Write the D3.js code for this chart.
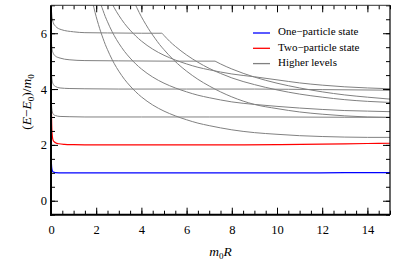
<!DOCTYPE html>
<html>
<head>
<meta charset="utf-8">
<script src="https://cdn.jsdelivr.net/npm/d3@7"></script>
<style>
  body { margin: 0; background: #fff; }
  svg { display: block; }
</style>
</head>
<body>
<div id="chart-container"></div>
<script>
// Levels as [m0R, (E-E0)/m0] pairs
var oneParticle = [[0.01,1.45],[0.03,1.2],[0.06,1.07],[0.1,1.03],[0.2,1.01],[0.5,1.0],[2,1.0],[5,1.0],[8,1.0],[11,1.0],[13,1.005],[15,1.01]];
var twoParticle = [[0.01,3.6],[0.03,2.75],[0.06,2.3],[0.1,2.15],[0.2,2.08],[0.35,2.04],[0.6,2.02],[1,2.01],[2,2.0],[4,2.0],[6,2.0],[8,2.0],[10,2.01],[12,2.03],[14,2.05],[15,2.06]];

var level3 = [[0.01,3.7],[0.03,3.35],[0.06,3.18],[0.1,3.1],[0.2,3.05],[0.4,3.02],[0.8,3.01],[1.5,3.0],[4,3.0],[7,3.0],[10,3.0],[13,2.99],[15,2.99]];
var level4 = [[0.01,4.75],[0.03,4.45],[0.06,4.27],[0.1,4.17],[0.2,4.09],[0.4,4.04],[0.8,4.02],[1.5,4.01],[3,4.0],[6,4.0],[9,4.0],[12,3.98],[15,3.96]];
var level5 = [[0.01,5.85],[0.03,5.55],[0.06,5.38],[0.1,5.28],[0.2,5.18],[0.4,5.11],[0.8,5.05],[1.5,5.02],[3,5.01],[5,5.0],[7.26,5.0]];
var level6 = [[0.02,6.8],[0.05,6.55],[0.1,6.38],[0.2,6.25],[0.45,6.13],[1,6.05],[1.5,6.02],[2.5,6.01],[4,6.0],[4.9,6.0],
              [5.0,5.92],[5.25,5.71],[5.5,5.53],[6,5.22],[6.5,4.96],[7,4.74],[7.5,4.56],[8,4.40],[9,4.16],[10,3.97],[11,3.82],[12,3.71],[13,3.62],[14,3.56],[15,3.52]];
var movingA = [[1.8,7.26],[1.9,6.91],[2.0,6.59],[2.1,6.31],[2.2,6.05],[2.3,5.82],[2.4,5.60],[2.5,5.41],[2.6,5.23],[2.8,4.91],[3.0,4.64],[3.25,4.35],[3.5,4.11],[3.75,3.90],[4,3.72],[4.5,3.43],[5,3.21],[5.5,3.04],[6,2.90],[6.5,2.78],[7,2.69],[7.5,2.61],[8,2.54],[9,2.44],[10,2.38],[11,2.33],[12,2.30],[13,2.28],[14,2.27],[15,2.27]];
var movingB = [[2.15,7.18],[2.2,7.05],[2.3,6.82],[2.4,6.60],[2.5,6.41],[2.6,6.23],[2.8,5.91],[3,5.64],[3.25,5.35],[3.5,5.11],[3.75,4.90],[4,4.72],[4.5,4.43],[5,4.21],[5.5,4.04],[6,3.90],[6.5,3.78],[7,3.69],[7.5,3.61],[8,3.54],[9,3.45],[10,3.38],[11,3.32],[12,3.27],[13,3.23],[14,3.21],[15,3.19]];
var movingC = [[2.65,7.15],[2.8,6.91],[3,6.64],[3.25,6.35],[3.5,6.11],[3.75,5.90],[4,5.72],[4.5,5.43],[5,5.21],[5.5,5.04],[6,4.90],[6.5,4.78],[7,4.69],[7.5,4.61],[8,4.54],[9,4.44],[10,4.33],[11,4.22],[12,4.14],[13,4.08],[14,4.04],[15,4.01]];
var movingD = [[3.65,7.17],[3.8,6.91],[4,6.59],[4.2,6.31],[4.4,6.05],[4.6,5.82],[4.8,5.60],[5,5.41],[5.2,5.23],[5.6,4.91],[6,4.64],[6.5,4.35],[7,4.11],[7.5,3.90],[8,3.72],[9,3.45],[10,3.30],[11,3.18],[12,3.10],[13,3.04],[14,3.0],[15,2.98]];
var movingE = [[7.26,5.0],[7.5,4.90],[8,4.72],[9,4.43],[10,4.21],[11,4.04],[12,3.90],[13,3.79],[14,3.71],[15,3.64]];

var higherLevels = [level3, level4, level5, level6, movingA, movingB, movingC, movingD, movingE];

var legendLabels = ["One\u2212particle state", "Two\u2212particle state", "Higher levels"];
var legendColors = ["#0000ff", "#ff0000", "#808080"];

var xMajorTicks = [0, 2, 4, 6, 8, 10, 12, 14];
var yMajorTicks = [0, 2, 4, 6];
var xMinorTicks = d3.range(0, 15.01, 0.5);
var yMinorTicks = d3.range(-0.5, 7.01, 0.5);

var width = 399, height = 264;
var plotLeft = 51, plotRight = 390, plotTop = 5.3, plotBottom = 214.7;

var svg = d3.select("#chart-container").append("svg")
    .attr("width", width)
    .attr("height", height)
    .style("font-family", "'Liberation Serif', 'DejaVu Serif', serif");

var x = d3.scaleLinear().domain([0, 15]).range([plotLeft, plotRight]);
var y = d3.scaleLinear().domain([-0.5, 7]).range([plotBottom, plotTop]);

svg.append("clipPath").attr("id", "plot-clip")
    .append("rect")
    .attr("x", plotLeft).attr("y", plotTop)
    .attr("width", plotRight - plotLeft).attr("height", plotBottom - plotTop);

var line = d3.line()
    .x(function(d) { return x(d[0]); })
    .y(function(d) { return y(d[1]); })
    .curve(d3.curveMonotoneX);

var plot = svg.append("g").attr("clip-path", "url(#plot-clip)");

// gray higher levels first, then red and blue on top
plot.selectAll("path.higher")
    .data(higherLevels)
    .enter()
    .append("path")
    .attr("class", "higher")
    .attr("d", line)
    .attr("fill", "none")
    .attr("stroke", legendColors[2])
    .attr("stroke-width", 1);

plot.append("path").attr("d", line(twoParticle))
    .attr("fill", "none").attr("stroke", legendColors[1]).attr("stroke-width", 1.2);
plot.append("path").attr("d", line(oneParticle))
    .attr("fill", "none").attr("stroke", legendColors[0]).attr("stroke-width", 1.2);

// ticks pointing inward on all four sides
function tickAxis(axis, tx, ty, values, size, labels) {
    var g = svg.append("g")
        .attr("transform", "translate(" + tx + "," + ty + ")")
        .call(axis.tickValues(values).tickSize(size).tickFormat(labels ? d3.format("d") : ""));
    g.select(".domain").remove();
    g.selectAll(".tick line").attr("stroke", "#000").attr("stroke-width", 1);
    return g;
}

tickAxis(d3.axisBottom(x), 0, plotBottom, xMinorTicks, -4, false);
tickAxis(d3.axisTop(x), 0, plotTop, xMinorTicks, -4, false);
tickAxis(d3.axisLeft(y), plotLeft, 0, yMinorTicks, -4, false);
tickAxis(d3.axisRight(y), plotRight, 0, yMinorTicks, -4, false);

var xAxis = tickAxis(d3.axisBottom(x).tickPadding(10), 0, plotBottom, xMajorTicks, -7, true);
tickAxis(d3.axisTop(x), 0, plotTop, xMajorTicks, -7, false);
var yAxis = tickAxis(d3.axisLeft(y).tickPadding(4), plotLeft, 0, yMajorTicks, -7, true);
tickAxis(d3.axisRight(y), plotRight, 0, yMajorTicks, -7, false);

xAxis.selectAll("text").attr("font-size", 12.5).attr("fill", "#000").attr("font-family", "'Liberation Serif', serif");
yAxis.selectAll("text").attr("font-size", 12.5).attr("fill", "#000").attr("font-family", "'Liberation Serif', serif");

// frame: thick left and bottom, thin top and right
svg.append("line").attr("x1", plotLeft).attr("x2", plotLeft).attr("y1", plotTop).attr("y2", plotBottom + 1)
    .attr("stroke", "#000").attr("stroke-width", 2);
svg.append("line").attr("x1", plotLeft - 1).attr("x2", plotRight).attr("y1", plotBottom).attr("y2", plotBottom)
    .attr("stroke", "#000").attr("stroke-width", 2);
svg.append("line").attr("x1", plotLeft).attr("x2", plotRight).attr("y1", plotTop).attr("y2", plotTop)
    .attr("stroke", "#333").attr("stroke-width", 1);
svg.append("line").attr("x1", plotRight).attr("x2", plotRight).attr("y1", plotTop).attr("y2", plotBottom)
    .attr("stroke", "#000").attr("stroke-width", 1.2);

// axis titles
var xTitle = svg.append("text")
    .attr("x", (plotLeft + plotRight) / 2)
    .attr("y", 256)
    .attr("text-anchor", "middle")
    .attr("font-size", 13.5)
    .attr("font-style", "italic");
xTitle.append("tspan").text("m");
xTitle.append("tspan").attr("font-size", 9).attr("dy", 3).attr("font-style", "normal").text("0");
xTitle.append("tspan").attr("dy", -3).text("R");

var yTitle = svg.append("text")
    .attr("transform", "translate(31," + ((plotTop + plotBottom) / 2 - 8) + ") rotate(-90)")
    .attr("text-anchor", "middle")
    .attr("font-size", 13.5);
yTitle.append("tspan").text("(");
yTitle.append("tspan").attr("font-style", "italic").text("E");
yTitle.append("tspan").text("\u2212");
yTitle.append("tspan").attr("font-style", "italic").text("E");
yTitle.append("tspan").attr("font-size", 9).attr("dy", 3).text("0");
yTitle.append("tspan").attr("dy", -3).text(")/");
yTitle.append("tspan").attr("font-style", "italic").text("m");
yTitle.append("tspan").attr("font-size", 9).attr("dy", 3).text("0");

// legend
var legend = svg.append("g").selectAll("g")
    .data(legendLabels)
    .enter()
    .append("g")
    .attr("transform", function(d, i) { return "translate(253," + (33 + i * 15.3) + ")"; });

legend.append("line")
    .attr("x1", 0).attr("x2", 17)
    .attr("stroke", function(d, i) { return legendColors[i]; })
    .attr("stroke-width", 1.3);

legend.append("text")
    .attr("x", 25)
    .attr("y", -1)
    .attr("dy", "0.3em")
    .attr("font-size", 11)
    .text(function(d) { return d; });
</script>
</body>
</html>
